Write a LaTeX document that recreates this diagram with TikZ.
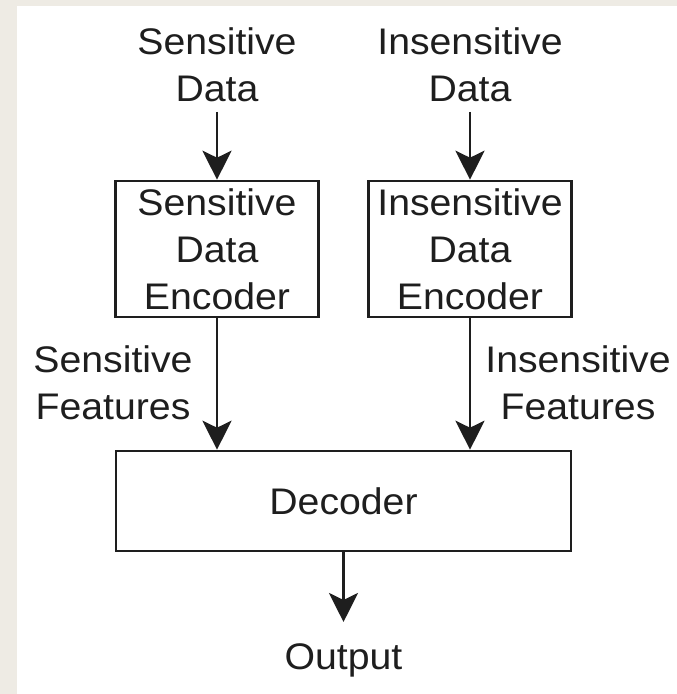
\documentclass[tikz,border=0pt]{standalone}
\usepackage{fontspec}
\setmainfont{Liberation Sans}[FakeStretch=1.06]
\usetikzlibrary{arrows.meta}
\definecolor{paper}{RGB}{238,235,228}
\definecolor{ink}{RGB}{30,30,30}
\begin{document}
\begin{tikzpicture}[x=1pt, y=-1pt, >={Stealth[length=29pt,width=29pt,inset=7pt]},
  blk/.style={draw=ink, line width=2.6pt, minimum width=203pt, minimum height=136pt, align=center, inner sep=0pt},
  lbl/.style={align=center, inner sep=0pt},
  arr/.style={draw=ink, line width=2.2pt, ->},
  font=\fontsize{37}{47}\selectfont, text=ink]
\fill[paper] (0,0) rectangle (677,694);
\fill[white] (17,6) rectangle (677,694);
\useasboundingbox (0,0) rectangle (677,694);
% inputs
\node[lbl] (sdata) at (217,64.5) {Sensitive\\Data};
\node[lbl] (idata) at (470,64.5) {Insensitive\\Data};
% encoders
\node[blk] (senc) at (217,249) {Sensitive\\Data\\Encoder};
\node[blk] (ienc) at (470,249) {Insensitive\\Data\\Encoder};
% decoder
\node[blk, minimum width=455pt, minimum height=100pt] (dec) at (343.5,501) {Decoder};
\node[lbl, anchor=base] (out) at (343.5,669) {Output};
% feature labels
\node[lbl] (sfeat) at (113,382.5) {Sensitive\\Features};
\node[lbl] (ifeat) at (578,382.5) {Insensitive\\Features};
\draw[arr, shorten <=10pt] (sdata) -- (senc);
\draw[arr, shorten <=10pt] (idata) -- (ienc);
\draw[arr] (senc.south) -- (senc.south |- dec.north);
\draw[arr] (ienc.south) -- (ienc.south |- dec.north);
\draw[arr, shorten >=21pt] (dec.south) -- (out.north);
\end{tikzpicture}
\end{document}
